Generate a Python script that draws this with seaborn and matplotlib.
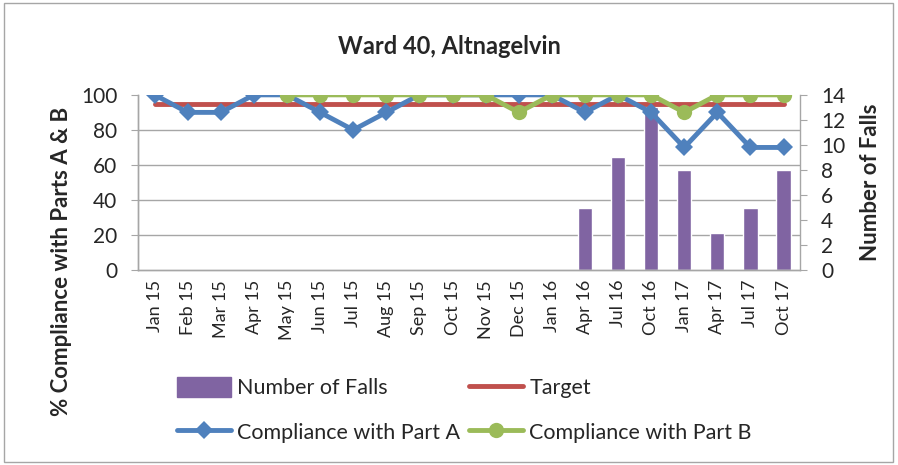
import numpy as np
import pandas as pd
import matplotlib
matplotlib.use("Agg")
import matplotlib.pyplot as plt
from matplotlib.patches import Rectangle
from matplotlib.lines import Line2D
import seaborn as sns

# ---------------- Data ----------------
months = ["Jan 15", "Feb 15", "Mar 15", "Apr 15", "May 15", "Jun 15", "Jul 15",
          "Aug 15", "Sep 15", "Oct 15", "Nov 15", "Dec 15", "Jan 16", "Apr 16",
          "Jul 16", "Oct 16", "Jan 17", "Apr 17", "Jul 17", "Oct 17"]
falls = [0, 0, 0, 0, 0, 0, 0, 0, 0, 0, 0, 0, 0, 5, 9, 13, 8, 3, 5, 8]
part_a = [100, 90, 90, 100, 100, 90, 80, 90, 100, 100, 100, 100, 100, 90,
          100, 90, 70, 90, 70, 70]
part_b = [np.nan, np.nan, np.nan, np.nan, 100, 100, 100, 100, 100, 100, 100,
          90, 100, 100, 100, 100, 90, 100, 100, 100]
target = [95] * len(months)

df = pd.DataFrame({"Month": months, "Falls": falls, "PartA": part_a,
                   "PartB": part_b, "Target": target})
df["pos"] = range(len(df))

PURPLE = "#8064A2"
RED = "#C0504D"
BLUE = "#4F81BD"
GREEN = "#9BBB59"
GRID = "#A6A6A6"

sns.set_style("white")
plt.rcParams["font.family"] = ["Lato", "DejaVu Sans"]

fig = plt.figure(figsize=(8.98, 4.65), dpi=100)
ax = fig.add_axes([0.1537, 0.419, 0.7373, 0.377])
ax2 = ax.twinx()

# bars on the secondary axis, behind the lines
sns.barplot(data=df, x="Month", y="Falls", color=PURPLE, width=0.43,
            saturation=1, ax=ax2, zorder=2)
ax2.set_ylim(0, 14)
ax2.set_yticks(range(0, 15, 2))
# gridlines follow the left axis (0, 20, ... 100)
ax2.set_yticks(np.linspace(0, 14, 6), minor=True)
ax2.yaxis.grid(True, which="minor", color=GRID, linewidth=1)
ax2.yaxis.grid(False, which="major")
ax2.set_axisbelow(True)
ax2.set_ylabel("")
ax2.set_xlabel("")

# lines on the primary axis, drawn on top
ax.set_zorder(ax2.get_zorder() + 1)
ax.patch.set_visible(False)
sns.lineplot(data=df, x="pos", y="Target", color=RED, linewidth=3.5, ax=ax)
sns.lineplot(data=df, x="pos", y="PartA", color=BLUE, linewidth=3.5,
             marker="D", markersize=9, markeredgewidth=0, ax=ax)
sns.lineplot(data=df.dropna(subset=["PartB"]), x="pos", y="PartB", color=GREEN,
             linewidth=3.5, marker="o", markersize=11, markeredgewidth=0, ax=ax)
ax.set_ylim(0, 100)
ax.set_yticks(range(0, 101, 20))
ax.set_xlim(-0.5, len(months) - 0.5)
ax.set_xticks(range(len(months)))
ax.set_xticklabels(months, rotation=90, fontsize=13)
ax.set_xticks(np.arange(-0.5, len(months), 1), minor=True)
ax.tick_params(axis="x", which="major", length=0, pad=7)
ax.tick_params(axis="x", which="minor", length=5, color=GRID, width=1)
ax.tick_params(axis="y", length=5, color=GRID, labelsize=15, pad=10)
ax2.tick_params(axis="y", which="major", length=5, color=GRID, labelsize=15,
                pad=10)
ax2.tick_params(axis="y", which="minor", length=0)
ax2.tick_params(axis="x", length=0, labelbottom=False)
ax.set_xlabel("")
ax.set_ylabel("")

for a in (ax, ax2):
    for side in ("left", "right", "bottom"):
        a.spines[side].set_color(GRID)
        a.spines[side].set_linewidth(1)
    a.spines["top"].set_visible(False)
ax.spines["right"].set_visible(False)

fig.text(0.5, 0.899, "Ward 40, Altnagelvin", ha="center", va="center",
         fontsize=17, fontweight="bold")
fig.text(0.068, 0.437, "% Compliance with Parts A & B", rotation=90,
         ha="center", va="center", fontsize=16, fontweight="bold")
fig.text(0.969, 0.607, "Number of Falls", rotation=90,
         ha="center", va="center", fontsize=16, fontweight="bold")

handles = [
    Rectangle((0, 0), 1, 1, color=PURPLE),
    Line2D([], [], color=BLUE, linewidth=3.5, marker="D", markersize=9,
           markeredgewidth=0),
    Line2D([], [], color=RED, linewidth=3.5),
    Line2D([], [], color=GREEN, linewidth=3.5, marker="o", markersize=11,
           markeredgewidth=0),
]
labels = ["Number of Falls", "Compliance with Part A", "Target",
          "Compliance with Part B"]
fig.legend(handles, labels, ncol=2, loc="center", bbox_to_anchor=(0.517, 0.118),
           frameon=False, fontsize=15.5, handlelength=2.5, handletextpad=0.28,
           columnspacing=0.45, labelspacing=1.1, handleheight=1.0)

fig.add_artist(Rectangle((0.004, 0.006), 0.99, 0.988, transform=fig.transFigure,
                         fill=False, edgecolor="#A6A6A6", linewidth=1))

fig.savefig("out.png", dpi=100)
